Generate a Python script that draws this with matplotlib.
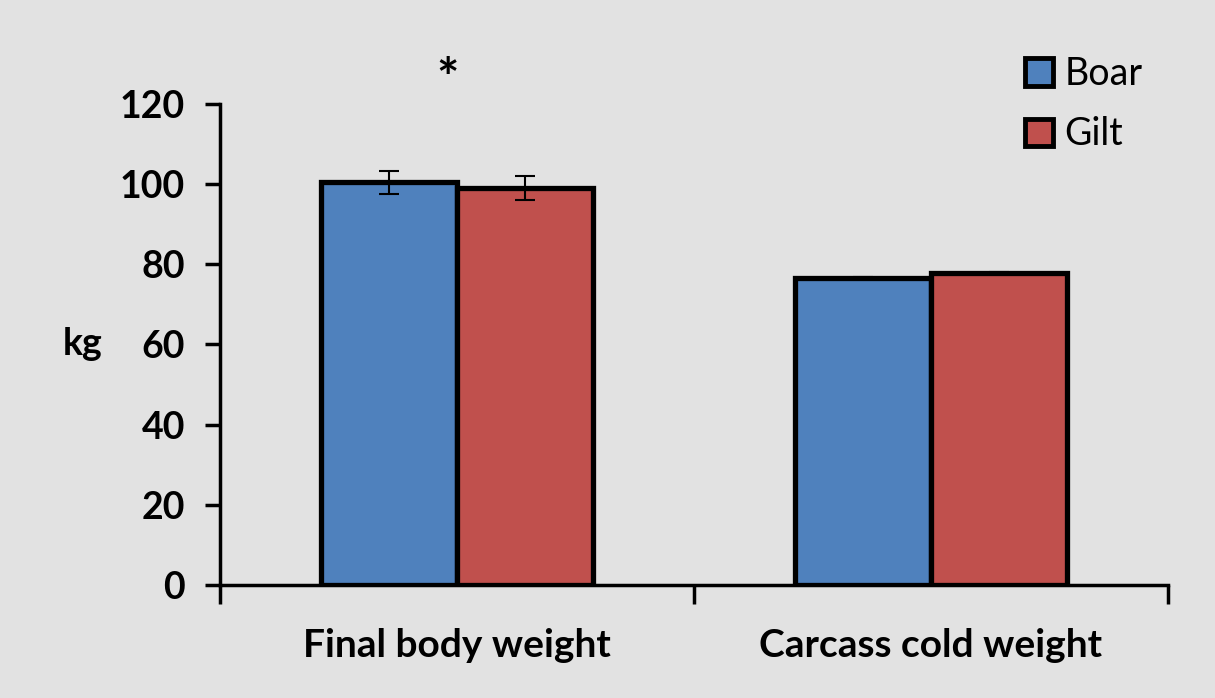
import numpy as np
import matplotlib
matplotlib.use('Agg')
import matplotlib.pyplot as plt

categories = ['Final body weight', 'Carcass cold weight']
boar = [100.5, 76.6]
gilt = [99.0, 77.8]
boar_err = [2.9, 0.3]
gilt_err = [3.0, 0.3]

plt.rcParams['font.family'] = ['Lato', 'DejaVu Sans']

fig = plt.figure(figsize=(12.15, 6.98), dpi=100, facecolor='#e2e2e2')
ax = fig.add_axes([0.181, 0.162, 0.780, 0.689])
ax.set_facecolor('none')

x = np.arange(len(categories))
w = 0.287
ekw = dict(ecolor='black', elinewidth=1.5, capsize=7, capthick=1.5)
ax.bar(x - w / 2, boar, w, color='#4F81BD', edgecolor='black', linewidth=3.8,
       yerr=boar_err, error_kw=ekw, label='Boar', zorder=3)
ax.bar(x + w / 2, gilt, w, color='#C0504D', edgecolor='black', linewidth=3.8,
       yerr=gilt_err, error_kw=ekw, label='Gilt', zorder=3)

ax.set_xlim(-0.5, 1.5)
ax.set_ylim(0, 120)
ax.set_yticks(range(0, 121, 20))
ax.set_xticks([-0.5, 0.5, 1.5])
ax.set_xticklabels([])
ax.set_xticks(x, minor=True)
ax.set_xticklabels(categories, minor=True, fontsize=28, fontweight='bold')
ax.tick_params(axis='x', which='minor', length=0, pad=31)
ax.tick_params(axis='x', which='major', direction='out', length=14, width=2.5)
ax.tick_params(axis='y', direction='out', length=11, width=2.5, labelsize=27, pad=14)
for lab in ax.get_yticklabels():
    lab.set_fontweight('bold')

for side in ['top', 'right']:
    ax.spines[side].set_visible(False)
for side in ['left', 'bottom']:
    ax.spines[side].set_linewidth(2.5)

ax.set_ylabel('kg', fontsize=27, fontweight='bold', rotation=0, labelpad=27, va='center')

ax.text(x[0] - 0.02, 125.5, '*', fontsize=38, fontweight='bold', ha='center', va='center',
        clip_on=False)

leg = ax.legend(loc='upper right', bbox_to_anchor=(1.009, 1.17), frameon=False,
                fontsize=27, handlelength=0.75, handleheight=0.75, handletextpad=0.3,
                labelspacing=0.65)
for h in leg.legend_handles:
    h.set_linewidth(3.5)

fig.savefig('out.png', dpi=100, facecolor=fig.get_facecolor())
